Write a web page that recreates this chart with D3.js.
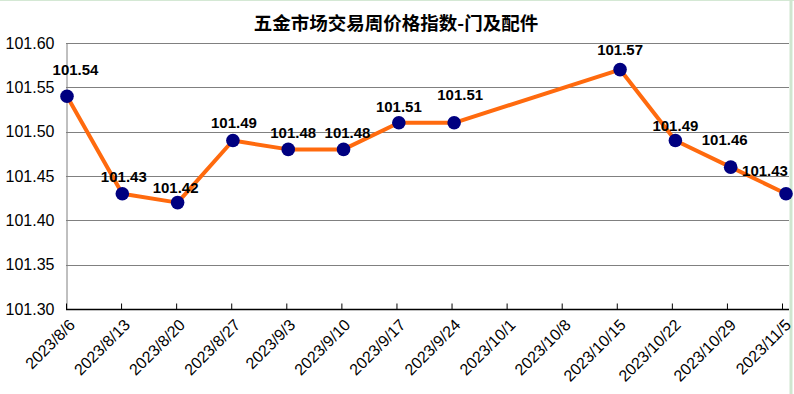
<!DOCTYPE html>
<html>
<head>
<meta charset="utf-8">
<script src="https://cdn.jsdelivr.net/npm/d3@7"></script>
<style>
  body { margin: 0; background: #fff; }
  svg { display: block; }
</style>
</head>
<body>
<svg id="chart"></svg>
<script>
const title = '五金市场交易周价格指数-门及配件'
const dates = ['2023/8/6','2023/8/13','2023/8/20','2023/8/27','2023/9/3','2023/9/10','2023/9/17',
               '2023/9/24','2023/10/1','2023/10/8','2023/10/15','2023/10/22','2023/10/29','2023/11/5']
const values = [101.54, 101.43, 101.42, 101.49, 101.48, 101.48, 101.51,
                101.51, null, null, 101.57, 101.49, 101.46, 101.43]
const yTicks = [101.30, 101.35, 101.40, 101.45, 101.50, 101.55, 101.60]

const W = 794, H = 394
const plotLeft = 66, plotRight = 789, plotTop = 43, plotBottom = 309

const svg = d3.select('#chart').attr('width', W).attr('height', H)

// spreadsheet cell lines behind the chart
svg.append('line').attr('x1', 0).attr('x2', W).attr('y1', 0.5).attr('y2', 0.5)
  .attr('stroke', '#d4e8d4')
svg.append('line').attr('x1', 791).attr('x2', 791).attr('y1', 0).attr('y2', H)
  .attr('stroke', '#cfe6cf').attr('stroke-width', 3)

const x = d3.scalePoint().domain(dates).range([plotLeft, 782])      // ticks / labels
const xp = d3.scalePoint().domain(dates).range([67, 786])           // markers
const y = d3.scaleLinear().domain([101.30, 101.60]).range([plotBottom, plotTop])

svg.append('text')
  .attr('x', 396).attr('y', 30)
  .attr('text-anchor', 'middle')
  .style('font-family', '"Noto Sans CJK SC", sans-serif')
  .style('font-weight', 'bold')
  .style('font-size', '18.5px')
  .text(title)

// grid
svg.append('g')
  .selectAll('line')
  .data(yTicks.slice(1))
  .join('line')
    .attr('x1', plotLeft).attr('x2', plotRight)
    .attr('y1', d => Math.round(y(d)) + 0.5).attr('y2', d => Math.round(y(d)) + 0.5)
    .attr('stroke', '#808080')

// y axis
const yAxis = svg.append('g')
  .attr('transform', `translate(${plotLeft + 0.5},0)`)
  .call(d3.axisLeft(y).tickValues(yTicks).tickFormat(d3.format('.2f')).tickSize(0).tickPadding(12))
yAxis.select('.domain').attr('stroke', '#808080')
yAxis.selectAll('text')
  .style('font-family', 'Arial, "Liberation Sans", sans-serif')
  .style('font-size', '16px')
  .attr('fill', '#000')

// x axis
const xAxis = svg.append('g')
  .attr('transform', `translate(0,${plotBottom + 0.5})`)
  .call(d3.axisTop(x).tickSize(6).tickFormat(''))
xAxis.select('.domain').attr('d', `M${plotLeft},0H${plotRight}`)
  .attr('stroke', '#000').attr('stroke-width', 1.5)
xAxis.selectAll('.tick line').attr('stroke', '#000')

svg.append('g')
  .selectAll('text')
  .data(dates)
  .join('text')
    .attr('transform', d => `translate(${x(d) + 10},${plotBottom + 17}) rotate(-45)`)
    .attr('text-anchor', 'end')
    .style('font-family', 'Arial, "Liberation Sans", sans-serif')
    .style('font-size', '16px')
    .text(d => d)

const pts = dates.map((d, i) => ({date: d, value: values[i]})).filter(p => p.value !== null)

svg.append('path')
  .datum(pts)
  .attr('fill', 'none')
  .attr('stroke', '#ff6a0e')
  .attr('stroke-width', 4)
  .attr('stroke-linejoin', 'round')
  .attr('d', d3.line().x(p => xp(p.date)).y(p => y(p.value)))

svg.append('g')
  .selectAll('circle')
  .data(pts)
  .join('circle')
    .attr('cx', p => xp(p.date))
    .attr('cy', p => y(p.value))
    .attr('r', 6.8)
    .attr('fill', '#000080')

// label nudges, as placed in the original
const labelShift = [[8.5,-10],[1.5,-1],[-2,1],[1,-2],[5,0],[4,0],[0,0],[6,-12],[0,-4],[0,1],[-6,-11],[-21,-7]]

svg.append('g')
  .selectAll('text')
  .data(pts)
  .join('text')
    .attr('x', (p, i) => xp(p.date) + labelShift[i][0])
    .attr('y', (p, i) => y(p.value) - 11 + labelShift[i][1])
    .attr('text-anchor', 'middle')
    .style('font-family', 'Arial, "Liberation Sans", sans-serif')
    .style('font-weight', 'bold')
    .style('font-size', '15px')
    .text(p => p.value.toFixed(2))
</script>
</body>
</html>
